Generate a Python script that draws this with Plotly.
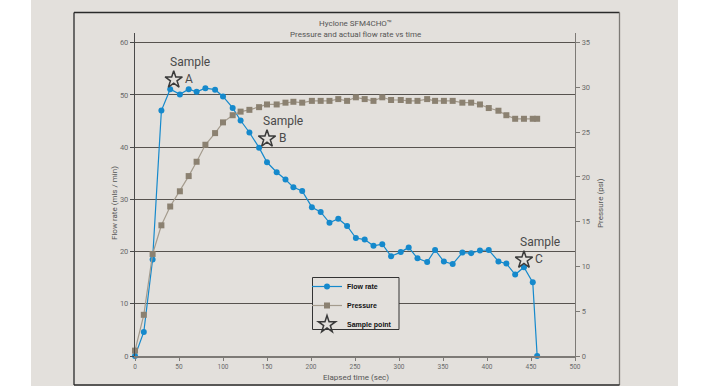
import plotly.graph_objects as go

# Elapsed time (sec) of each reading
time_s = [0, 10, 20, 30, 40, 51, 61, 70, 80, 91,
          100, 111, 120, 130, 141, 150, 161, 171, 180, 190,
          201, 211, 221, 231, 241, 251, 261, 271, 281, 291,
          302, 311, 321, 332, 341, 351, 361, 372, 382, 392,
          402, 413, 422, 432, 442, 452, 457]

# Flow rate (mls / min)
flow_rate = [0, 4.6, 18.5, 47.0, 51.1, 50.1, 51.1, 50.6, 51.3, 51.0,
             49.7, 47.5, 45.1, 42.8, 39.9, 37.1, 35.2, 33.8, 32.3, 31.6,
             28.5, 27.6, 25.5, 26.3, 24.9, 22.6, 22.3, 21.1, 21.4, 19.1,
             19.9, 20.8, 18.7, 18.0, 20.3, 18.1, 17.6, 19.8, 19.7, 20.2,
             20.3, 18.1, 17.7, 15.6, 17.0, 14.1, 0]

# Pressure (psi)
pressure = [0.6, 4.6, 11.4, 14.6, 16.7, 18.4, 20.1, 21.7, 23.6, 24.9,
            26.1, 26.9, 27.3, 27.5, 27.8, 28.1, 28.1, 28.3, 28.4, 28.3,
            28.5, 28.5, 28.5, 28.7, 28.5, 28.9, 28.7, 28.5, 28.9, 28.6,
            28.6, 28.5, 28.5, 28.7, 28.5, 28.5, 28.5, 28.3, 28.3, 28.1,
            27.7, 27.4, 26.9, 26.5, 26.5, 26.5, 26.5]

# Sample points
sample_labels = ["A", "B", "C"]
sample_time = [44, 150, 442]
sample_flow = [52.9, 41.6, 18.4]

flow_ticks = [0, 10, 20, 30, 40, 50, 60]
pressure_ticks = [0, 5, 10, 15, 20, 25, 30, 35]
time_ticks = [0, 50, 100, 150, 200, 250, 300, 350, 400, 450, 500]

# Page geometry (pixels)
W, H = 711, 386
PL, PR, PT, PB = 135, 575, 33, 356
PANEL = "#e3e0dc"
FONT = "Roboto"


def px(x):
    return (x - PL) / (PR - PL)


def py(y):
    return (PB - y) / (PB - PT)


fig = go.Figure()

fig.add_trace(go.Scatter(
    x=time_s, y=flow_rate, name="<b>Flow rate</b>", mode="lines+markers",
    line=dict(color="#1589cc", width=1.2),
    marker=dict(symbol="circle", size=6, color="#1589cc"),
    cliponaxis=False, yaxis="y"))

fig.add_trace(go.Scatter(
    x=time_s, y=pressure, name="<b>Pressure</b>", mode="lines+markers",
    line=dict(color="#a49b8d", width=1.2),
    marker=dict(symbol="square", size=6, color="#8b8171"),
    cliponaxis=False, yaxis="y2"))

fig.add_trace(go.Scatter(
    x=sample_time, y=sample_flow, name="<b>Sample point</b>", mode="markers",
    marker=dict(symbol="star-open", size=13, color="#3a3a3a",
                line=dict(width=1.5, color="#3a3a3a")),
    cliponaxis=False, yaxis="y"))

annotations = []
for lab, t, f in zip(sample_labels, sample_time, sample_flow):
    annotations.append(dict(x=t, y=f, xref="x", yref="y", text="Sample",
                            showarrow=False, xanchor="left", yanchor="middle",
                            xshift=-6, yshift=18,
                            font=dict(family=FONT, size=12, color="#4a4a4a")))
    annotations.append(dict(x=t, y=f, xref="x", yref="y", text=lab,
                            showarrow=False, xanchor="center", yanchor="middle",
                            xshift=15, yshift=1,
                            font=dict(family=FONT, size=12, color="#4a4a4a")))

txt = dict(family=FONT, size=8, color="#555555")
annotations += [
    dict(x=px(355), y=py(24), xref="paper", yref="paper", text="Hyclone SFM4CHO™",
         showarrow=False, xanchor="center", yanchor="middle", font=txt),
    dict(x=px(355), y=py(34.5), xref="paper", yref="paper",
         text="Pressure and actual flow rate vs time",
         showarrow=False, xanchor="center", yanchor="middle", font=txt),
    dict(x=px(114), y=py(203), xref="paper", yref="paper", text="Flow rate (mls / min)",
         showarrow=False, textangle=-90, xanchor="center", yanchor="middle", font=txt),
    dict(x=px(600), y=py(203), xref="paper", yref="paper", text="Pressure (psi)",
         showarrow=False, textangle=-90, xanchor="center", yanchor="middle", font=txt),
    dict(x=px(356), y=py(378), xref="paper", yref="paper", text="Elapsed time (sec)",
         showarrow=False, xanchor="center", yanchor="middle", font=txt),
]

shapes = [
    # grey panel
    dict(type="rect", xref="paper", yref="paper", x0=px(31), x1=px(678),
         y0=py(H + 5), y1=py(-5), fillcolor=PANEL, line=dict(width=0), layer="below"),
    # frame
    dict(type="line", xref="paper", yref="paper", x0=px(74), x1=px(619.5),
         y0=py(12.5), y1=py(12.5), line=dict(color="#2a2a2a", width=1.3)),
    dict(type="line", xref="paper", yref="paper", x0=px(74), x1=px(74),
         y0=py(12.5), y1=py(385), line=dict(color="#2a2a2a", width=1.3)),
    dict(type="line", xref="paper", yref="paper", x0=px(619.5), x1=px(619.5),
         y0=py(12.5), y1=py(385), line=dict(color="#7d7a76", width=1.3)),
    dict(type="line", xref="paper", yref="paper", x0=px(74), x1=px(619.5),
         y0=py(385), y1=py(385), line=dict(color="#2a2a2a", width=1.3)),
    # legend box (covers the grid line behind it)
    dict(type="rect", xref="paper", yref="paper", x0=px(312.5), x1=px(399),
         y0=py(329.5), y1=py(277.5), fillcolor=PANEL,
         line=dict(color="#333333", width=1), layer="above"),
]

y_top = 60 * (PB - PT) / (PB - 42.7)
y2_top = 35 * (PB - PT) / (PB - 42.7)
tickfont = dict(family=FONT, size=7.5, color="#6a6a6a")

fig.update_layout(
    width=W, height=H,
    margin=dict(l=PL, r=W - PR, t=PT, b=H - PB, pad=0),
    paper_bgcolor="white", plot_bgcolor="rgba(0,0,0,0)",
    showlegend=True,
    legend=dict(x=px(307), y=py(272), xanchor="left", yanchor="top",
                bgcolor="rgba(0,0,0,0)", borderwidth=0,
                font=dict(family="Liberation Sans", size=7, color="#111111"),
                itemwidth=30, tracegroupgap=0),
    xaxis=dict(range=[0, 500], tickvals=time_ticks, showgrid=False, zeroline=False,
               showline=True, linecolor="#7d7a76", linewidth=1.5,
               ticks="outside", ticklen=3, tickcolor="#7d7a76",
               tickfont=dict(family=FONT, size=6.5, color="#6a6a6a")),
    yaxis=dict(range=[0, y_top], tickvals=flow_ticks, showgrid=True,
               gridcolor="#57534f", gridwidth=1.3, zeroline=False,
               showline=True, linecolor="#4a4a4a", linewidth=1.3,
               ticks="outside", ticklen=4, tickcolor="#4a4a4a", tickfont=tickfont),
    yaxis2=dict(range=[0, y2_top], tickvals=pressure_ticks, overlaying="y",
                side="right", showgrid=False, zeroline=False,
                showline=True, linecolor="#7d7a76", linewidth=1.3,
                ticks="outside", ticklen=4, tickcolor="#7d7a76", tickfont=tickfont),
    annotations=annotations,
    shapes=shapes,
)

fig.write_html("out.html")
